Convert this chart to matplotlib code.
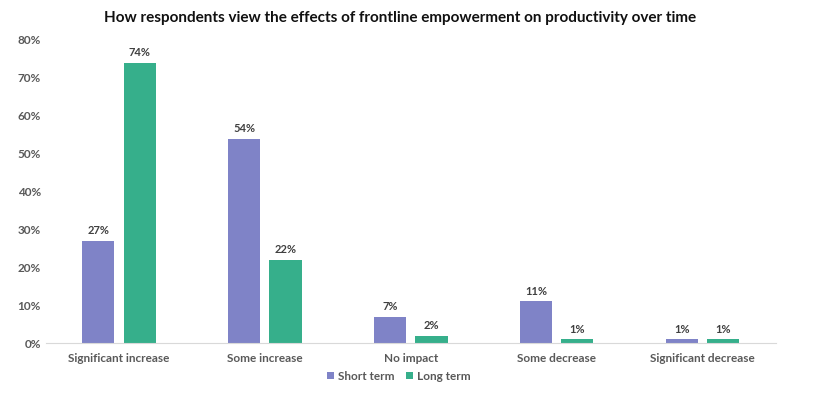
import numpy as np
import matplotlib
matplotlib.use("Agg")
import matplotlib.pyplot as plt

categories = ["Significant increase", "Some increase", "No impact",
              "Some decrease", "Significant decrease"]
short_term = [27, 54, 7, 11, 1]
long_term = [74, 22, 2, 1, 1]
series_names = ["Short term", "Long term"]
y_ticks = [0, 10, 20, 30, 40, 50, 60, 70, 80]

purple = "#7f83c7"
green = "#36af8b"

plt.rcParams['font.family'] = ['Lato', 'DejaVu Sans']

fig = plt.figure(figsize=(8.34, 4.08), dpi=100)
ax = fig.add_axes([0.055, 0.159, 0.875, 0.743])

x = np.arange(len(categories))
w = 0.22
off = 0.142
b1 = ax.bar(x - off, short_term, w, color=purple, label=series_names[0])
b2 = ax.bar(x + off, long_term, w, color=green, label=series_names[1])

for bars, vals in ((b1, short_term), (b2, long_term)):
    for b, v in zip(bars, vals):
        ax.text(b.get_x() + b.get_width() / 2, v + 1.2, f"{v}%",
                ha='center', va='bottom', fontsize=8, fontweight='bold',
                color='#404040')

ax.set_xlim(-0.5, len(categories) - 0.5)
ax.set_ylim(0, 80)
ax.set_yticks(y_ticks)
ax.set_yticklabels([f"{t}%" for t in y_ticks])
ax.set_xticks(x)
ax.set_xticklabels(categories)
ax.tick_params(axis='both', length=0, labelsize=8.5, labelcolor='#595959')
ax.tick_params(axis='x', pad=7)
for lab in ax.get_xticklabels() + ax.get_yticklabels():
    lab.set_fontweight('bold')

for s in ['top', 'right', 'left']:
    ax.spines[s].set_visible(False)
ax.spines['bottom'].set_color('#d9d9d9')

fig.text(0.48, 0.955, "How respondents view the effects of frontline empowerment on productivity over time",
         ha='center', va='center', fontsize=11, fontweight='bold', color='#111111')

leg = fig.legend(loc='center', bbox_to_anchor=(0.478, 0.078), ncol=2, frameon=False,
                 fontsize=8.5, handlelength=0.6, handleheight=0.6, handletextpad=0.3,
                 columnspacing=1.0)
for t in leg.get_texts():
    t.set_color('#595959')
    t.set_fontweight('bold')

fig.savefig("out.png", dpi=100)
